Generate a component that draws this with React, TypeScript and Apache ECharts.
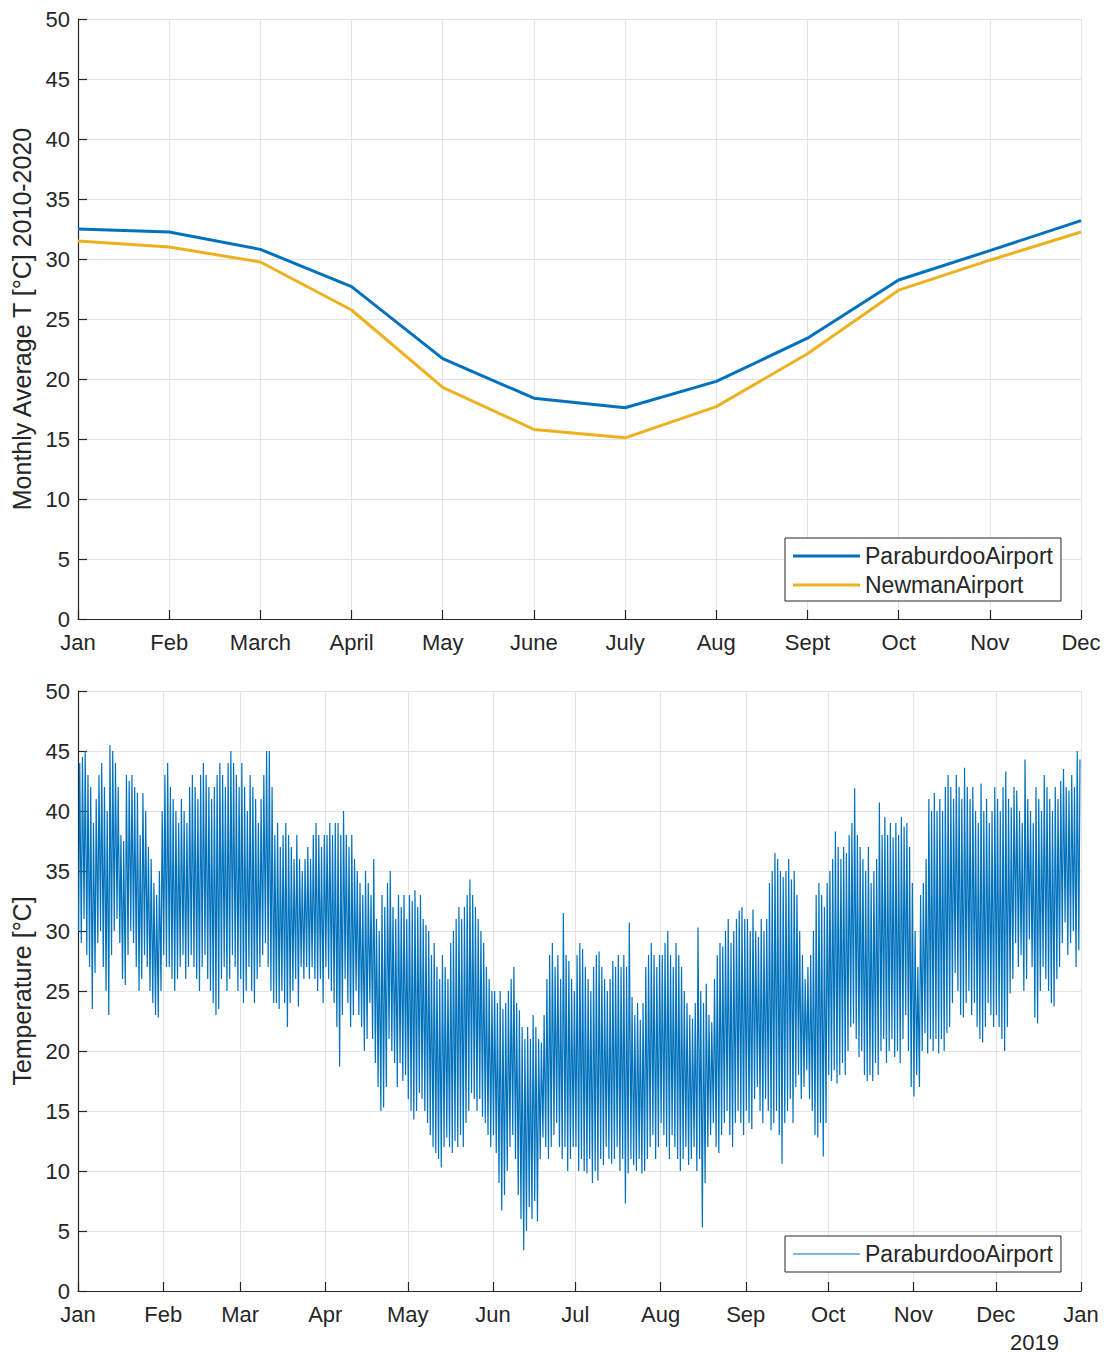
import React, { useEffect, useRef } from "react";
import * as echarts from "echarts";

// ---------- Top chart: monthly averages 2010-2020 ----------
const TOP_MONTHS = ["Jan", "Feb", "March", "April", "May", "June", "July", "Aug", "Sept", "Oct", "Nov", "Dec"];
const PARABURDOO_MONTHLY = [32.5, 32.25, 30.8, 27.7, 21.7, 18.4, 17.6, 19.8, 23.4, 28.25, 30.7, 33.2];
const NEWMAN_MONTHLY = [31.5, 31.0, 29.75, 25.75, 19.3, 15.8, 15.1, 17.7, 22.1, 27.4, 29.9, 32.25];

// ---------- Bottom chart: Paraburdoo 2018, daily extremes ----------
const BOTTOM_MONTHS = ["Jan", "Feb", "Mar", "Apr", "May", "Jun", "Jul", "Aug", "Sep", "Oct", "Nov", "Dec"];
const YEAR = 2018;
const DAILY_MAX = [
  [44, 44.5, 45, 43, 42, 39, 41, 43, 44, 42, 40, 45.5, 45, 44, 42, 38, 37.5, 43, 42.5, 43, 42, 41.5, 38, 41.5, 40, 37, 36, 34, 33, 35, 40],
  [43, 44, 42, 41, 40, 39, 41, 40, 39, 42, 43, 42, 41, 43, 44, 43, 42, 41, 42, 43, 44, 43, 42, 44, 45, 44, 43, 42],
  [44, 42, 40, 43, 42, 41, 39, 41, 43, 45, 45, 42, 38, 39, 37, 38, 39, 38, 37, 36, 38, 36, 35, 36, 37, 36, 38, 39, 38, 37, 38],
  [38, 39, 38, 39, 39, 38, 40, 38, 37, 38, 36, 35, 34, 33, 35, 34, 33, 36, 31, 30, 33, 32, 34, 35, 32, 31, 33, 32, 33, 31],
  [33, 32.5, 33.4, 32, 33, 31, 30.5, 30, 28, 29, 27, 26, 28, 27, 26, 29, 30, 31, 32, 31, 32, 33, 34.3, 33, 32, 31, 30, 29, 27, 26, 25],
  [25, 24, 25, 23.5, 24, 25, 26, 27, 24, 23.4, 22, 21, 22, 21, 23, 22, 21, 20.7, 23, 26, 28, 29, 27, 28, 26, 31.5, 28, 27.5, 26, 25],
  [28, 29, 28.5, 27, 26, 25, 27, 28, 28.3, 27, 26, 25, 26, 27.5, 27, 28, 27, 28, 27, 30.7, 24.5, 23, 24, 22.6, 24, 27, 28, 29, 28, 27, 28],
  [28, 29, 30, 28, 27, 29, 28, 27, 25, 24, 23, 22.7, 24, 30.3, 25, 24, 25.6, 23, 22.4, 26, 28, 29, 28.7, 30, 31, 29, 30, 31, 31.7, 32, 31],
  [31, 30, 31.8, 30, 29.5, 31, 30, 31, 34, 35, 36.5, 36, 35, 34.5, 35, 36, 34.3, 35, 33, 30, 28, 26, 27, 28, 30, 33, 34, 33, 32, 34],
  [35, 36, 38.3, 37, 36, 37, 36.5, 38, 39, 41.9, 38, 37, 36, 35, 37, 34, 35, 36, 40.7, 38, 39.5, 38, 39, 37.8, 39, 38, 39.5, 38.7, 39, 37, 34],
  [30, 27, 33, 34, 36, 41, 40, 41.5, 40, 41, 40, 42, 43, 42, 41, 43, 42, 41, 43.6, 42, 41, 42, 40, 39, 42.3, 40, 41, 39, 40, 42],
  [41, 40, 42, 43.3, 41, 40.3, 42, 41.7, 40, 39, 44.3, 41, 40, 39, 42, 41, 40, 43, 42, 41, 40, 42, 41, 42.5, 43.5, 42, 41.7, 43, 42, 45, 44.3],
];
const DAILY_MIN = [
  [30, 29, 31, 28, 27, 23.5, 26.5, 29, 30, 27, 25, 23, 28, 30, 31, 29, 26, 25.5, 28, 30, 29, 27, 25, 26, 28, 27, 25, 24, 23, 22.8, 25],
  [28, 27, 27, 26, 25, 26, 27, 28, 26, 27, 28, 27, 26, 25, 27, 28, 26, 25, 24, 23, 23.5, 26, 27, 25, 26, 28, 27, 25],
  [26, 24, 25, 27, 25, 24, 26, 27, 28, 29, 27, 25, 24, 24, 23.5, 25, 24, 22, 24, 25, 26, 23.7, 27, 26, 27, 26, 27, 26, 25, 26, 24],
  [27, 26, 25, 24, 22, 18.7, 23, 26, 24, 22, 23, 25, 23, 22, 20, 21, 24, 21, 19, 17, 15, 15.3, 17, 21, 20, 19, 17, 19, 17.5, 18],
  [16, 15, 14.3, 15, 16.5, 16, 15, 14, 13, 12, 11.5, 11, 10.3, 12, 12.8, 12, 11.5, 12.5, 12, 13, 12, 14, 15, 16.5, 16, 15, 16, 14.5, 14, 13, 12],
  [13, 11.5, 9, 6.7, 8, 10, 12, 13, 11, 8, 6, 3.4, 5, 7, 6, 7.5, 5.8, 11, 12.8, 12, 11, 12, 13, 14, 12, 11, 12, 10, 11, 12],
  [12, 10, 11, 10, 9.8, 11, 9, 10, 9.2, 11, 10.5, 12, 11, 10.6, 11, 12, 10, 11, 7.3, 9.8, 11, 10.5, 10, 11, 9.8, 10, 11, 12, 13, 11, 12],
  [14, 13, 12, 11, 13, 12, 11, 10, 11, 12, 10.5, 11, 12, 10, 11, 5.3, 9, 12, 13, 14, 12, 11.5, 13, 14, 15, 13, 12, 14, 15, 14, 13],
  [15, 14, 13.5, 16, 17, 15, 14, 16, 15, 13.4, 14, 15, 13, 10.6, 14, 15, 16, 14, 17, 18, 16, 17, 18.4, 16, 15, 13, 12.8, 14, 11.2, 14],
  [18, 17.5, 18.4, 17.3, 18, 19, 18, 20, 22, 22.3, 21, 19.5, 20, 18, 17.5, 18, 17.5, 19, 18, 20, 21, 19, 20, 21, 19.5, 20, 19, 21, 23, 20, 17],
  [16.2, 18, 17, 20, 21.5, 19.8, 21, 20, 21, 19.8, 21, 20, 21.5, 22, 24, 26.5, 25, 23, 22.8, 24, 25, 23, 24, 22, 21, 20.7, 22, 24, 23, 22],
  [23, 22, 21, 20, 22, 24.8, 26, 29, 27, 28, 25, 26, 29.3, 27, 22.8, 22.3, 25, 27, 26, 25, 24, 23.7, 26, 27, 29, 30.7, 28, 29, 30, 27, 28.4],
];
const MIN_HOUR = 5;
const MAX_HOUR = 15;

const FONT = "'Liberation Sans', Arial, Helvetica, sans-serif";
const TEXT = "#262626";
const GRID = "#e4e4e4";
const BLUE = "#0072BD";
const YELLOW = "#EDB120";

function buildHourlyExtremes(): [number, number][] {
  const out: [number, number][] = [];
  for (let m = 0; m < 12; m++) {
    const maxs = DAILY_MAX[m];
    const mins = DAILY_MIN[m];
    for (let d = 0; d < maxs.length; d++) {
      const dayStart = Date.UTC(YEAR, m, d + 1);
      out.push([dayStart + MIN_HOUR * 3600000, mins[d]]);
      out.push([dayStart + MAX_HOUR * 3600000, maxs[d]]);
    }
  }
  return out;
}

const MONTH_STARTS: number[] = [];
for (let m = 0; m <= 12; m++) MONTH_STARTS.push(Date.UTC(YEAR, m, 1));

export default function App() {
  const ref = useRef<HTMLDivElement>(null);
  useEffect(() => {
    document.body.style.margin = "0";
    if (!ref.current) return;
    const chart = echarts.init(ref.current, undefined, { renderer: "svg" });
    const yAxisBase = (name: string, gridIndex: number) => ({
      type: "value" as const,
      gridIndex,
      min: 0,
      max: 50,
      interval: 5,
      name,
      nameLocation: "middle" as const,
      nameGap: 42,
      nameTextStyle: { fontFamily: FONT, fontSize: 25, color: TEXT },
      axisLine: { show: true, onZero: false, lineStyle: { color: TEXT, width: 1.2 } },
      axisTick: { show: true, inside: true, length: 9, lineStyle: { color: TEXT, width: 1.2 } },
      axisLabel: { fontFamily: FONT, fontSize: 22, color: TEXT, margin: 8, lineHeight: 20 },
      splitLine: { show: true, lineStyle: { color: GRID, width: 1 } },
    });
    const xLabel = { fontFamily: FONT, fontSize: 22, color: TEXT, margin: 12, lineHeight: 22 };
    const option: any = {
      animation: false,
      backgroundColor: "#ffffff",
      grid: [
        { left: 78, top: 19, width: 1003, height: 600 },
        { left: 78, top: 691, width: 1003, height: 600 },
      ],
      xAxis: [
        {
          type: "category",
          gridIndex: 0,
          data: TOP_MONTHS,
          boundaryGap: false,
          axisLine: { show: true, onZero: false, lineStyle: { color: TEXT, width: 1.2 } },
          axisTick: { show: true, inside: true, length: 9, interval: 0, lineStyle: { color: TEXT, width: 1.2 } },
          axisLabel: { ...xLabel, interval: 0 },
          splitLine: { show: true, interval: 0, lineStyle: { color: GRID, width: 1 } },
        },
        {
          type: "value",
          gridIndex: 1,
          min: MONTH_STARTS[0],
          max: MONTH_STARTS[12],
          axisLine: { show: true, onZero: false, lineStyle: { color: TEXT, width: 1.2 } },
          axisTick: { show: true, inside: true, length: 9, customValues: MONTH_STARTS, lineStyle: { color: TEXT, width: 1.2 } },
          axisLabel: {
            ...xLabel,
            customValues: MONTH_STARTS,
            showMinLabel: true,
            showMaxLabel: true,
            formatter: (v: number) => BOTTOM_MONTHS[new Date(v).getUTCMonth()],
          },
          splitLine: { show: true, lineStyle: { color: GRID, width: 1 } },
        },
      ],
      yAxis: [yAxisBase("Monthly Average T [°C] 2010-2020", 0), yAxisBase("Temperature [°C]", 1)],
      legend: [
        {
          data: ["ParaburdooAirport", "NewmanAirport"],
          orient: "vertical",
          left: 785,
          top: 538,
          icon: "rect",
          itemWidth: 67,
          itemHeight: 3,
          itemGap: 5,
          padding: [6, 8, 4, 8],
          borderColor: TEXT,
          borderWidth: 1,
          borderRadius: 0,
          backgroundColor: "#ffffff",
          selectedMode: false,
          textStyle: { fontFamily: FONT, fontSize: 23, color: TEXT, lineHeight: 24 },
        },
        {
          data: ["ParaburdooAirport"],
          orient: "vertical",
          left: 785,
          top: 1236,
          icon: "rect",
          itemWidth: 67,
          itemHeight: 1,
          itemGap: 5,
          padding: [6, 8, 6, 8],
          borderColor: TEXT,
          borderWidth: 1,
          borderRadius: 0,
          backgroundColor: "#ffffff",
          selectedMode: false,
          textStyle: { fontFamily: FONT, fontSize: 23, color: TEXT, lineHeight: 24 },
        },
      ],
      graphic: [
        {
          type: "text",
          left: 1010,
          top: 1331,
          style: { text: String(YEAR + 1), font: `22px ${FONT}`, fill: TEXT },
        },
      ],
      series: [
        {
          name: "ParaburdooAirport",
          type: "line",
          xAxisIndex: 0,
          yAxisIndex: 0,
          data: PARABURDOO_MONTHLY,
          symbol: "none",
          color: BLUE,
          lineStyle: { color: BLUE, width: 3 },
          z: 3,
        },
        {
          name: "NewmanAirport",
          type: "line",
          xAxisIndex: 0,
          yAxisIndex: 0,
          data: NEWMAN_MONTHLY,
          symbol: "none",
          color: YELLOW,
          lineStyle: { color: YELLOW, width: 3 },
          z: 2,
        },
        {
          name: "ParaburdooAirport",
          type: "line",
          xAxisIndex: 1,
          yAxisIndex: 1,
          data: buildHourlyExtremes(),
          symbol: "none",
          color: BLUE,
          lineStyle: { color: BLUE, width: 1.2 },
        },
      ],
    };
    chart.setOption(option);
    return () => chart.dispose();
  }, []);
  return <div ref={ref} style={{ width: 1108, height: 1353 }} />;
}
